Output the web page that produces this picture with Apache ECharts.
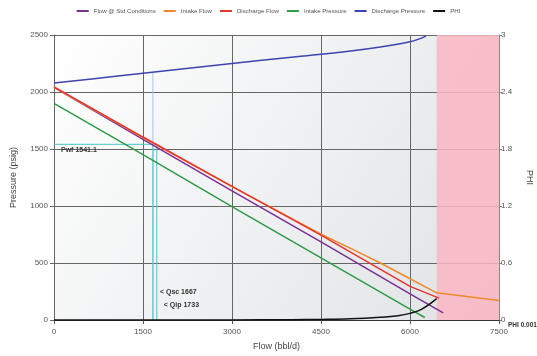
<!DOCTYPE html>
<html><head><meta charset="utf-8">
<script src="https://cdn.jsdelivr.net/npm/echarts@6/dist/echarts.min.js"></script>
<style>html,body{margin:0;padding:0;background:#fff}#c{width:537px;height:356px}</style>
</head><body><div id="c"></div>
<script>
// ---- data ----
var flowStd = [[0,2040],[1500,1585],[3000,1133],[4500,685],[6000,230],[6560,62]];
var intakeFlow = [[0,2040],[1500,1600],[3000,1170],[4500,752],[5000,628],[5500,500],[6000,362],[6450,238],[7500,172]];
var dischargeFlow = [[0,2045],[1500,1605],[3000,1172],[4500,745],[6000,295],[6490,192]];
var intakePressure = [[0,1900],[1500,1450],[3000,995],[4500,545],[6000,95],[6250,22]];
var dischargePressure = [[0,2080],[1000,2135],[2000,2193],[3000,2250],[4000,2305],[5000,2360],[5500,2395],[6000,2440],[6270,2490]];
var phi = [[0,0],[3000,0.001],[4000,0.003],[4500,0.006],[5000,0.012],[5500,0.028],[5800,0.045],[6000,0.07],[6200,0.115],[6450,0.225]];
var pwf = 1541.1, qsc = 1667, qip = 1733, phiValue = 0.001;
var qscPressure = 2170;      // discharge pressure where Qsc line meets it
var unstableFrom = 6450, xMax = 7500;
var xTicks = {min:0, max:7500, interval:1500};
var yTicks = {min:0, max:2500, interval:500};
var phiTicks = {min:0, max:3, interval:0.6};
var seriesNames = ['Flow @ Std Conditions','Intake Flow','Discharge Flow','Intake Pressure','Discharge Pressure','PHI'];
var seriesColors = ['#7a2f95','#ee8a2c','#e8332e','#2f9a47','#3d45ad','#111111'];

var chart = echarts.init(document.getElementById('c'), null, {renderer:'canvas'});
var plain = function(v){ return String(v); };
var tickLbl = {color:'#555', fontSize:8, fontFamily:'Liberation Sans, Arial', formatter:plain};
var nameTs = {color:'#444', fontSize:9, fontFamily:'Liberation Sans, Arial'};
var cyan = '#49c6cc';
function ln(name, data, color, yIdx, smooth, extra){
  var s = {name:name, type:'line', data:data, yAxisIndex:yIdx||0, showSymbol:false, symbol:'none',
    smooth:smooth||false, lineStyle:{color:color, width:1.5}, itemStyle:{color:color}, z:5, animation:false};
  if (extra) for (var k in extra) s[k]=extra[k];
  return s;
}
var lblStyle = {fontSize:7, fontWeight:'bold', color:'#333', fontFamily:'Liberation Sans, Arial'};
var series = [
  ln('pink', [[unstableFrom,0],[xMax,0]], 'rgba(0,0,0,0)', 0, false, {
    lineStyle:{width:0}, z:1, silent:true,
    markArea:{silent:true, itemStyle:{color:'rgba(250,182,194,0.85)'}, data:[[{xAxis:unstableFrom},{xAxis:xMax}]]}
  }),
  ln('qscLine', [[qsc,0],[qsc,qscPressure]], '#a9c0ee', 0, false, {lineStyle:{color:'#a9c0ee', width:1}, z:3}),
  ln('pwfBox', [[0,pwf],[qip,pwf],[qip,0]], cyan, 0, false, {lineStyle:{color:cyan, width:1}, z:3,
    markPoint:{symbol:'circle', symbolSize:0, data:[
      {coord:[0,pwf], label:{show:true, position:'right', offset:[2,6], formatter:'Pwf '+pwf.toFixed(1), ...lblStyle}},
      {coord:[qsc,0], label:{show:true, position:'right', offset:[2,-28], formatter:'< Qsc '+qsc, ...lblStyle}},
      {coord:[qip,0], label:{show:true, position:'right', offset:[2,-15], formatter:'< Qip '+qip, ...lblStyle}}
    ]}}),
  ln('qscLow', [[qsc,0],[qsc,pwf]], cyan, 0, false, {lineStyle:{color:cyan, width:1}, z:3}),
  ln(seriesNames[0], flowStd, seriesColors[0]),
  ln(seriesNames[1], intakeFlow, seriesColors[1]),
  ln(seriesNames[2], dischargeFlow, seriesColors[2]),
  ln(seriesNames[3], intakePressure, seriesColors[3]),
  ln(seriesNames[4], dischargePressure, seriesColors[4], 0, 0.4),
  ln(seriesNames[5], phi, seriesColors[5], 1, 0.4)
];
chart.setOption({
  animation:false,
  legend:{data:seriesNames, top:3, left:'center', icon:'rect', itemWidth:12, itemHeight:2, itemGap:8,
    textStyle:{color:'#555', fontSize:6.1, fontFamily:'Liberation Sans, Arial'}},
  grid:{left:54, right:38, top:35, bottom:36, show:true, borderWidth:0, outerBoundsMode:'none', containLabel:false,
    backgroundColor:new echarts.graphic.LinearGradient(0,0,1,1,[{offset:0,color:'#ffffff'},{offset:1,color:'#dfe2e4'}])},
  xAxis:{type:'value', min:xTicks.min, max:xTicks.max, interval:xTicks.interval,
    name:'Flow (bbl/d)', nameLocation:'middle', nameGap:22, nameTextStyle:nameTs,
    axisLine:{show:true, lineStyle:{color:'#333'}}, axisTick:{show:true, length:4, lineStyle:{color:'#555'}},
    axisLabel:tickLbl, splitLine:{show:true, lineStyle:{color:'#666', width:1}}},
  yAxis:[
    {type:'value', min:yTicks.min, max:yTicks.max, interval:yTicks.interval,
      name:'Pressure (psig)', nameLocation:'middle', nameGap:36, nameTextStyle:nameTs,
      axisLine:{show:true, lineStyle:{color:'#666'}}, axisTick:{show:true, length:4, lineStyle:{color:'#666'}},
      axisLabel:{...tickLbl, margin:6}, splitLine:{show:true, lineStyle:{color:'#666', width:1}}},
    {type:'value', min:phiTicks.min, max:phiTicks.max, interval:phiTicks.interval, position:'right',
      name:'PHI', nameLocation:'middle', nameGap:26, nameRotate:-90, nameTextStyle:nameTs,
      axisLine:{show:true, lineStyle:{color:'#888'}}, axisTick:{show:true, length:3, lineStyle:{color:'#888'}},
      axisLabel:{...tickLbl, margin:2}, splitLine:{show:false}}
  ],
  graphic:[{type:'text', left:508, top:322, style:{text:'PHI '+phiValue, fontSize:6.5, fontWeight:'bold', fill:'#333', fontFamily:'Liberation Sans, Arial'}}],
  series:series
});
</script></body></html>
